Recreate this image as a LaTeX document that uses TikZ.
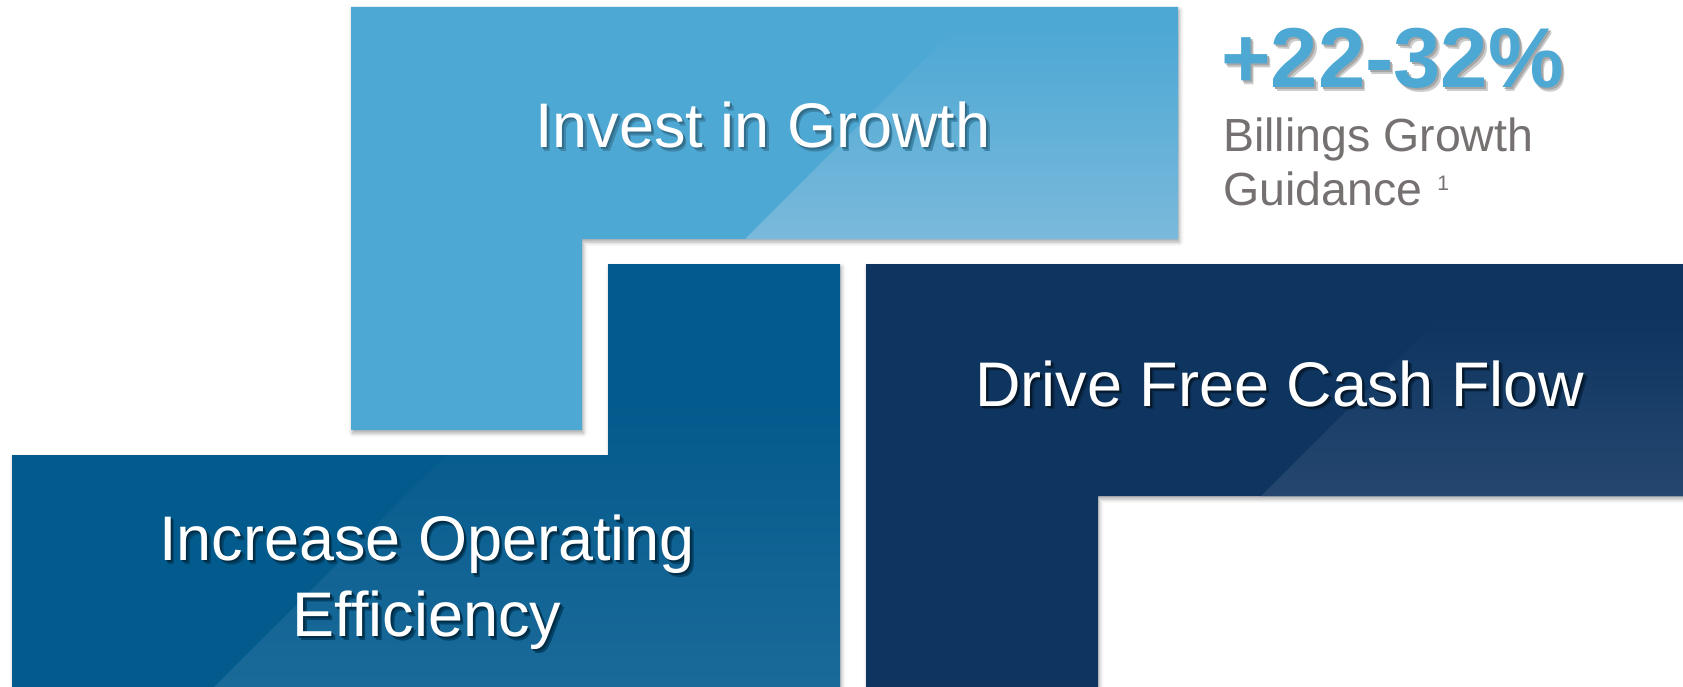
\documentclass[tikz,border=0pt]{standalone}
\usepackage{fontspec}
\setmainfont{Liberation Sans}
\usetikzlibrary{positioning,shadows.blur}

\definecolor{growthblue}{HTML}{4DA8D4}
\definecolor{growthlight}{HTML}{7AB9DB}
\definecolor{opblue}{HTML}{035A8C}
\definecolor{oplight}{HTML}{1A6A99}
\definecolor{cashnavy}{HTML}{0D3560}
\definecolor{cashlight}{HTML}{25476F}
\definecolor{guidegray}{HTML}{767171}

% text with two soft copies behind it
\newcommand{\shtxt}[3]{\rlap{\kern3.5pt\raisebox{-3.5pt}{\color{#1}#3}}\rlap{\kern2pt\raisebox{-2pt}{\color{#2}#3}}#3}

\tikzset{
  blocktext/.style={text=white, font=\fontsize{63}{76}\selectfont, align=center, inner sep=0pt},
  blockshadow/.style={blur shadow={shadow xshift=1.5pt, shadow yshift=-3pt, shadow blur radius=4pt, shadow opacity=35}},
  guidetext/.style={text=guidegray, font=\fontsize{46.5}{53}\selectfont, inner sep=0pt, anchor=base west}
}

\begin{document}
\begin{tikzpicture}[x=1pt, y=-1pt]
	\useasboundingbox (0,0) rectangle (1683,687);
	% invest in growth
	\fill[growthblue, blockshadow] (351,7) -- (1178,7) -- (1178,239) -- (582,239) -- (582,430) -- (351,430) -- cycle;
	\begin{scope}
		\clip (351,7) -- (1178,7) -- (1178,239) -- (582,239) -- (582,430) -- (351,430) -- cycle;
		\shade[top color=growthblue, bottom color=growthlight] (745,239) -- (955,29) -- (1178,29) -- (1178,239) -- cycle;
	\end{scope}
	% operating efficiency
	\fill[opblue, blockshadow] (608,264) -- (840,264) -- (840,687) -- (12,687) -- (12,455) -- (608,455) -- cycle;
	\begin{scope}
		\clip (608,264) -- (840,264) -- (840,687) -- (12,687) -- (12,455) -- (608,455) -- cycle;
		\shade[top color=opblue, bottom color=oplight] (214,687) -- (501,400) -- (840,400) -- (840,687) -- cycle;
	\end{scope}
	% free cash flow
	\fill[cashnavy, blockshadow] (866,264) -- (1683,264) -- (1683,496) -- (1098,496) -- (1098,687) -- (866,687) -- cycle;
	\begin{scope}
		\clip (866,264) -- (1683,264) -- (1683,496) -- (1098,496) -- (1098,687) -- (866,687) -- cycle;
		\shade[top color=cashnavy, bottom color=cashlight] (1261,496) -- (1441,316) -- (1683,316) -- (1683,496) -- cycle;
	\end{scope}

	\node[blocktext, anchor=base] (growth) at (763,148) {\shtxt{growthblue!80!black}{growthblue!65!black}{Invest in Growth}};
	\node[blocktext, anchor=north] (efficiency) at (427,515) {\shtxt{opblue!75!black}{opblue!50!black}{Increase Operating}\\\shtxt{opblue!75!black}{opblue!50!black}{Efficiency}};
	\node[blocktext, anchor=base] (cash) at (1280,406) {\shtxt{cashnavy!75!black}{cashnavy!45!black}{Drive Free Cash Flow}};

	\node[text=growthblue, font=\fontsize{85}{90}\selectfont\bfseries, inner sep=0pt, anchor=base west] (pct) at (1221,88) {\shtxt{black!20}{black!35}{+22-32\%}};
	\node[guidetext] (billings) at (1223,152) {Billings Growth};
	\node[guidetext] (guidance) at ([yshift=-53pt]billings.base west) {Guidance\hspace{15pt}\raisebox{14pt}{\fontsize{21}{21}\selectfont 1}};
\end{tikzpicture}
\end{document}
